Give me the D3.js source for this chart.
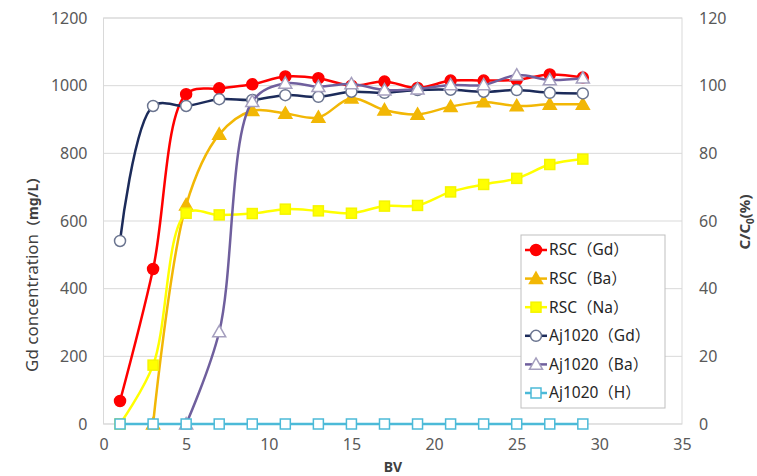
<!DOCTYPE html>
<html><head><meta charset="utf-8">
<script src="https://cdn.jsdelivr.net/npm/d3@7"></script>
<style>
html,body{margin:0;padding:0;background:#fff;}
svg{display:block;}
text{font-family:"Noto Sans","Noto Sans CJK SC",sans-serif;}
</style></head>
<body>
<svg id="chart" width="757" height="476"></svg>
<script>
// ---- data ----
const bv = [1,3,5,7,9,11,13,15,17,19,21,23,25,27,29];
// Gd concentration (mg/L), left axis
const rscGd  = [68,458,975,992,1004,1027,1022,1000,1012,993,1015,1015,1017,1033,1024];
const ajGd   = [541,940,940,960,958,972,967,982,979,987,988,982,987,979,977];
// C/C0 (%), right axis
const rscBa  = [null,0,64.7,85.6,92.6,91.8,90.6,96.3,92.8,91.5,93.8,95.2,94.0,94.5,94.5];
const rscNa  = [0,17.4,62.3,61.8,62.2,63.5,63.0,62.3,64.4,64.6,68.6,70.8,72.6,76.7,78.3];
const ajBa   = [null,null,0,27.2,95.3,100.7,99.7,100.5,98.7,99.0,100.2,100.2,103.1,101.7,102.2];
const ajH    = [0,0,0,0,0,0,0,0,0,0,0,0,0,0,0];
const seriesNames = ["RSC（Gd）","RSC（Ba）","RSC（Na）","Aj1020（Gd）","Aj1020（Ba）","Aj1020（H）"];
const leftTicks = [0,200,400,600,800,1000,1200];
const rightTicks = [0,20,40,60,80,100,120];
const xTicks = [0,5,10,15,20,25,30,35];

// ---- layout ----
const svg = d3.select("#chart");
const L = 103.5, R = 682, T = 18, B = 424;
const x = d3.scaleLinear([0,35],[L,R]);
const yL = d3.scaleLinear([0,1200],[B,T]);
const yR = d3.scaleLinear([0,120],[B,T]);

// gridlines
svg.append("g").selectAll("line").data(leftTicks).join("line")
  .attr("x1",L).attr("x2",R).attr("y1",d=>yL(d)).attr("y2",d=>yL(d))
  .attr("stroke","#d9d9d9").attr("stroke-width",1);
svg.append("rect").attr("x",L).attr("y",T).attr("width",R-L).attr("height",B-T)
  .attr("fill","none").attr("stroke","#d9d9d9").attr("stroke-width",1);

// axes
const tickColor = "#595959";
function styleAxis(g){
  g.select(".domain").remove();
  g.selectAll("text").attr("fill",tickColor).style("font-size","16px");
}
svg.append("g").attr("transform",`translate(${L},0)`)
  .call(d3.axisLeft(yL).tickValues(leftTicks).tickFormat(d3.format("d")).tickSize(0).tickPadding(16)).call(styleAxis);
svg.append("g").attr("transform",`translate(${R},0)`)
  .call(d3.axisRight(yR).tickValues(rightTicks).tickFormat(d3.format("d")).tickSize(0).tickPadding(17)).call(styleAxis);
svg.append("g").attr("transform",`translate(0,${B})`)
  .call(d3.axisBottom(x).tickValues(xTicks).tickFormat(d3.format("d")).tickSize(0).tickPadding(15)).call(styleAxis);

// axis titles
const lt = svg.append("text").attr("transform","translate(38,372) rotate(-90)")
  .attr("text-anchor","start").attr("fill","#404040").style("font-size","17px");
lt.append("tspan").text("Gd concentration");
lt.append("tspan").attr("font-weight","bold").style("font-size","14px").text("（mg/L）");

svg.append("text").attr("x",393).attr("y",472).attr("text-anchor","middle")
  .attr("font-weight","bold").attr("fill","#404040").style("font-size","14px").text("BV");

const rt = svg.append("text").attr("transform","translate(750,222) rotate(-90)")
  .attr("text-anchor","middle").attr("font-weight","bold").attr("fill","#404040").style("font-size","15px");
rt.append("tspan").text("C/C");
rt.append("tspan").attr("dy","4").style("font-size","10px").text("0");
rt.append("tspan").attr("dy","-4").text("(%)");

// ---- series ----
const series = [
  {name:seriesNames[0], vals:rscGd, y:yL, line:"#ff0000", shape:"circle", fill:"#ff0000", stroke:"#ff0000"},
  {name:seriesNames[1], vals:rscBa, y:yR, line:"#f2b705", shape:"triangle", fill:"#f2b705", stroke:"#f2b705"},
  {name:seriesNames[2], vals:rscNa, y:yR, line:"#ffff00", shape:"square", fill:"#ffff00", stroke:"#f5f500"},
  {name:seriesNames[3], vals:ajGd, y:yL, line:"#1c2b5a", shape:"circle", fill:"#ffffff", stroke:"#6b7590"},
  {name:seriesNames[4], vals:ajBa, y:yR, line:"#6f5f9d", shape:"triangle", fill:"#ffffff", stroke:"#a59fbe"},
  {name:seriesNames[5], vals:ajH, y:yR, line:"#4cbad8", shape:"square", fill:"#ffffff", stroke:"#4cbad8"},
];

function drawMarker(g, shape, cx, cy, fill, stroke){
  if(shape==="circle"){
    g.append("circle").attr("cx",cx).attr("cy",cy).attr("r",5.5)
      .attr("fill",fill).attr("stroke",stroke).attr("stroke-width",1.5);
  } else if(shape==="triangle"){
    const s=6.5;
    g.append("path").attr("d",`M${cx},${cy-s}L${cx+s},${cy+s*0.75}L${cx-s},${cy+s*0.75}Z`)
      .attr("fill",fill).attr("stroke",stroke).attr("stroke-width",1.5);
  } else {
    g.append("rect").attr("x",cx-5).attr("y",cy-5).attr("width",10).attr("height",10)
      .attr("fill",fill).attr("stroke",stroke).attr("stroke-width",1.5);
  }
}

series.forEach(s=>{
  const pts = bv.map((b,i)=>({b, v:s.vals[i]})).filter(p=>p.v!==null);
  const line = d3.line().x(p=>x(p.b)).y(p=>s.y(p.v)).curve(d3.curveCatmullRom.alpha(0.5));
  const g = svg.append("g");
  g.append("path").attr("d",line(pts)).attr("fill","none")
    .attr("stroke",s.line).attr("stroke-width",2.5);
  pts.forEach(p=>drawMarker(g, s.shape, x(p.b), s.y(p.v), s.fill, s.stroke));
});

// ---- legend ----
const lg = svg.append("g");
lg.append("rect").attr("x",521).attr("y",235).attr("width",144).attr("height",173)
  .attr("fill","#ffffff").attr("stroke","#bfbfbf").attr("stroke-width",1);
series.forEach((s,i)=>{
  const cy = 250 + i*28.6;
  lg.append("line").attr("x1",525).attr("x2",547).attr("y1",cy).attr("y2",cy)
    .attr("stroke",s.line).attr("stroke-width",2.5);
  drawMarker(lg, s.shape, 536, cy, s.fill, s.stroke);
  lg.append("text").attr("x",549).attr("y",cy).attr("dy","0.35em")
    .attr("fill","#262626").style("font-size","15.5px").text(s.name);
});
</script>
</body></html>
